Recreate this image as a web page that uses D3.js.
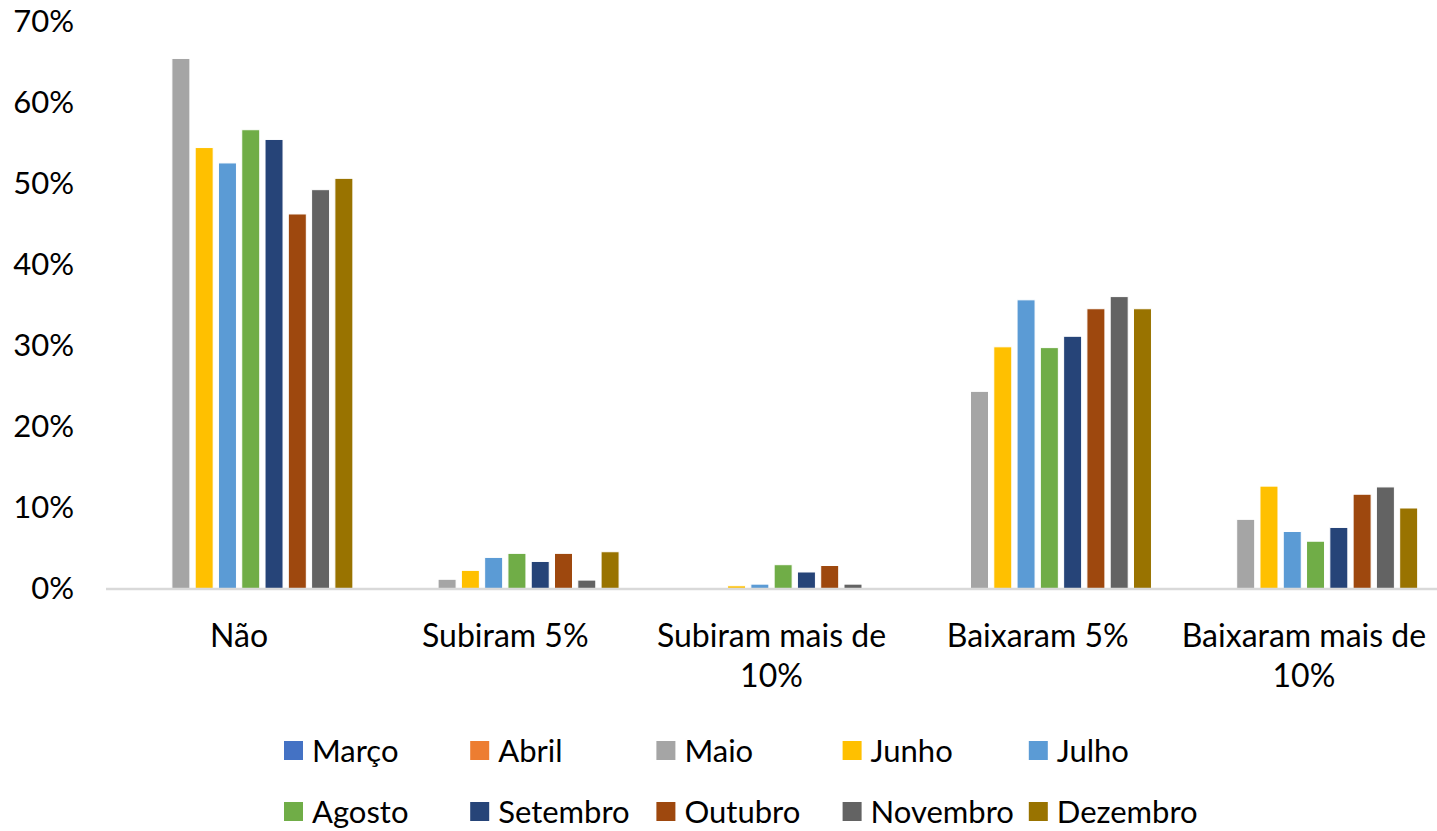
<!DOCTYPE html>
<html lang="pt">
<head>
    <meta charset="UTF-8">
    <title>Variação</title>
    <script src="https://d3js.org/d3.v7.min.js"></script>
    <style>
        body { margin: 0; background: #fff; }
        text { font-family: Lato, "Open Sans", sans-serif; fill: #000; }
    </style>
</head>
<body>
<script>
    // categories and series (in %)
    var categories = ["Não", "Subiram 5%", "Subiram mais de 10%", "Baixaram 5%", "Baixaram mais de 10%"];
    var months = ["Março", "Abril", "Maio", "Junho", "Julho", "Agosto", "Setembro", "Outubro", "Novembro", "Dezembro"];
    var colors = ["#4472C4", "#ED7D31", "#A5A5A5", "#FFC000", "#5B9BD5", "#70AD47", "#264478", "#9E480E", "#636363", "#997300"];

    var marco    = [0, 0, 0, 0, 0];
    var abril    = [0, 0, 0, 0, 0];
    var maio     = [65.5, 1.2, 0, 24.4, 8.6];
    var junho    = [54.5, 2.3, 0.4, 29.9, 12.7];
    var julho    = [52.6, 3.9, 0.6, 35.7, 7.1];
    var agosto   = [56.7, 4.4, 3.0, 29.8, 5.9];
    var setembro = [55.5, 3.4, 2.1, 31.2, 7.6];
    var outubro  = [46.3, 4.4, 2.9, 34.6, 11.7];
    var novembro = [49.3, 1.1, 0.6, 36.1, 12.6];
    var dezembro = [50.7, 4.6, 0, 34.6, 10.0];

    var yTicks = [0, 10, 20, 30, 40, 50, 60, 70];

    var series = [marco, abril, maio, junho, julho, agosto, setembro, outubro, novembro, dezembro];

    var width = 1437, height = 831;
    var plotLeft = 106, plotRight = 1437, plotTop = 22, plotBottom = 589;
    var fontSize = "32px";

    var svg = d3.select("body").append("svg")
        .attr("width", width)
        .attr("height", height);

    var x0 = d3.scaleBand().domain(categories).range([plotLeft, plotRight]).padding(0);
    var x1 = d3.scaleBand().domain(months).range([0, x0.bandwidth()])
        .paddingInner(0.227).paddingOuter(0.83);
    var y = d3.scaleLinear().domain([0, 70]).range([plotBottom, plotTop]);
    var color = d3.scaleOrdinal().domain(months).range(colors);

    // y axis labels
    var yAxis = svg.append("g")
        .attr("transform", "translate(" + 89 + ",0)")
        .call(d3.axisLeft(y).tickValues(yTicks).tickSize(0).tickPadding(15).tickFormat(d => d + "%"));
    yAxis.select(".domain").remove();
    yAxis.selectAll("text")
        .style("font-size", "31px")
        .style("font-family", "Lato, sans-serif")
        .attr("fill", "#000");

    // bars
    var groups = svg.append("g").selectAll("g")
        .data(categories)
        .enter().append("g")
        .attr("transform", d => "translate(" + x0(d) + ",0)");

    groups.selectAll("rect")
        .data((c, ci) => months.map((m, mi) => ({ month: m, value: series[mi][ci] })))
        .enter().append("rect")
        .filter(d => d.value > 0)
        .attr("x", d => x1(d.month))
        .attr("width", x1.bandwidth())
        .attr("y", d => y(d.value))
        .attr("height", d => y(0) - y(d.value))
        .attr("fill", d => color(d.month))
        .attr("stroke", "#fff")
        .attr("stroke-width", 1);

    // baseline
    svg.append("line")
        .attr("x1", plotLeft).attr("x2", plotRight)
        .attr("y1", y(0)).attr("y2", y(0))
        .attr("stroke", "#D9D9D9")
        .attr("stroke-width", 2.5);

    // category labels
    var xAxis = svg.append("g")
        .attr("transform", "translate(0," + y(0) + ")")
        .call(d3.axisBottom(x0).tickSize(0).tickPadding(0));
    xAxis.select(".domain").remove();
    xAxis.selectAll("text")
        .style("font-size", fontSize)
        .style("font-family", "Lato, sans-serif")
        .attr("fill", "#000")
        .attr("y", 58)
        .attr("dy", 0)
        .call(wrap, 250);

    function wrap(text, w) {
        text.each(function() {
            var t = d3.select(this),
                words = t.text().split(/\s+/).reverse(),
                word, line = [], lineNumber = 0,
                yy = t.attr("y"),
                tspan = t.text(null).append("tspan").attr("x", 0).attr("y", yy).attr("dy", 0);
            while (word = words.pop()) {
                line.push(word);
                tspan.text(line.join(" "));
                if (tspan.node().getComputedTextLength() > w && line.length > 1) {
                    line.pop();
                    tspan.text(line.join(" "));
                    line = [word];
                    tspan = t.append("tspan").attr("x", 0).attr("y", yy)
                        .attr("dy", (++lineNumber * 40) + "px").text(word);
                }
            }
        });
    }

    // legend
    var legend = svg.append("g").selectAll("g")
        .data(months)
        .enter().append("g")
        .attr("transform", (d, i) => "translate(" + (284 + (i % 5) * 186.2) + "," + (751 + Math.floor(i / 5) * 61) + ")");

    legend.append("rect")
        .attr("x", 0)
        .attr("y", -10)
        .attr("width", 19)
        .attr("height", 19)
        .attr("fill", d => color(d));

    legend.append("text")
        .attr("x", 28)
        .attr("y", 0)
        .attr("dy", "0.35em")
        .style("font-size", "31px")
        .text(d => d);
</script>
</body>
</html>
